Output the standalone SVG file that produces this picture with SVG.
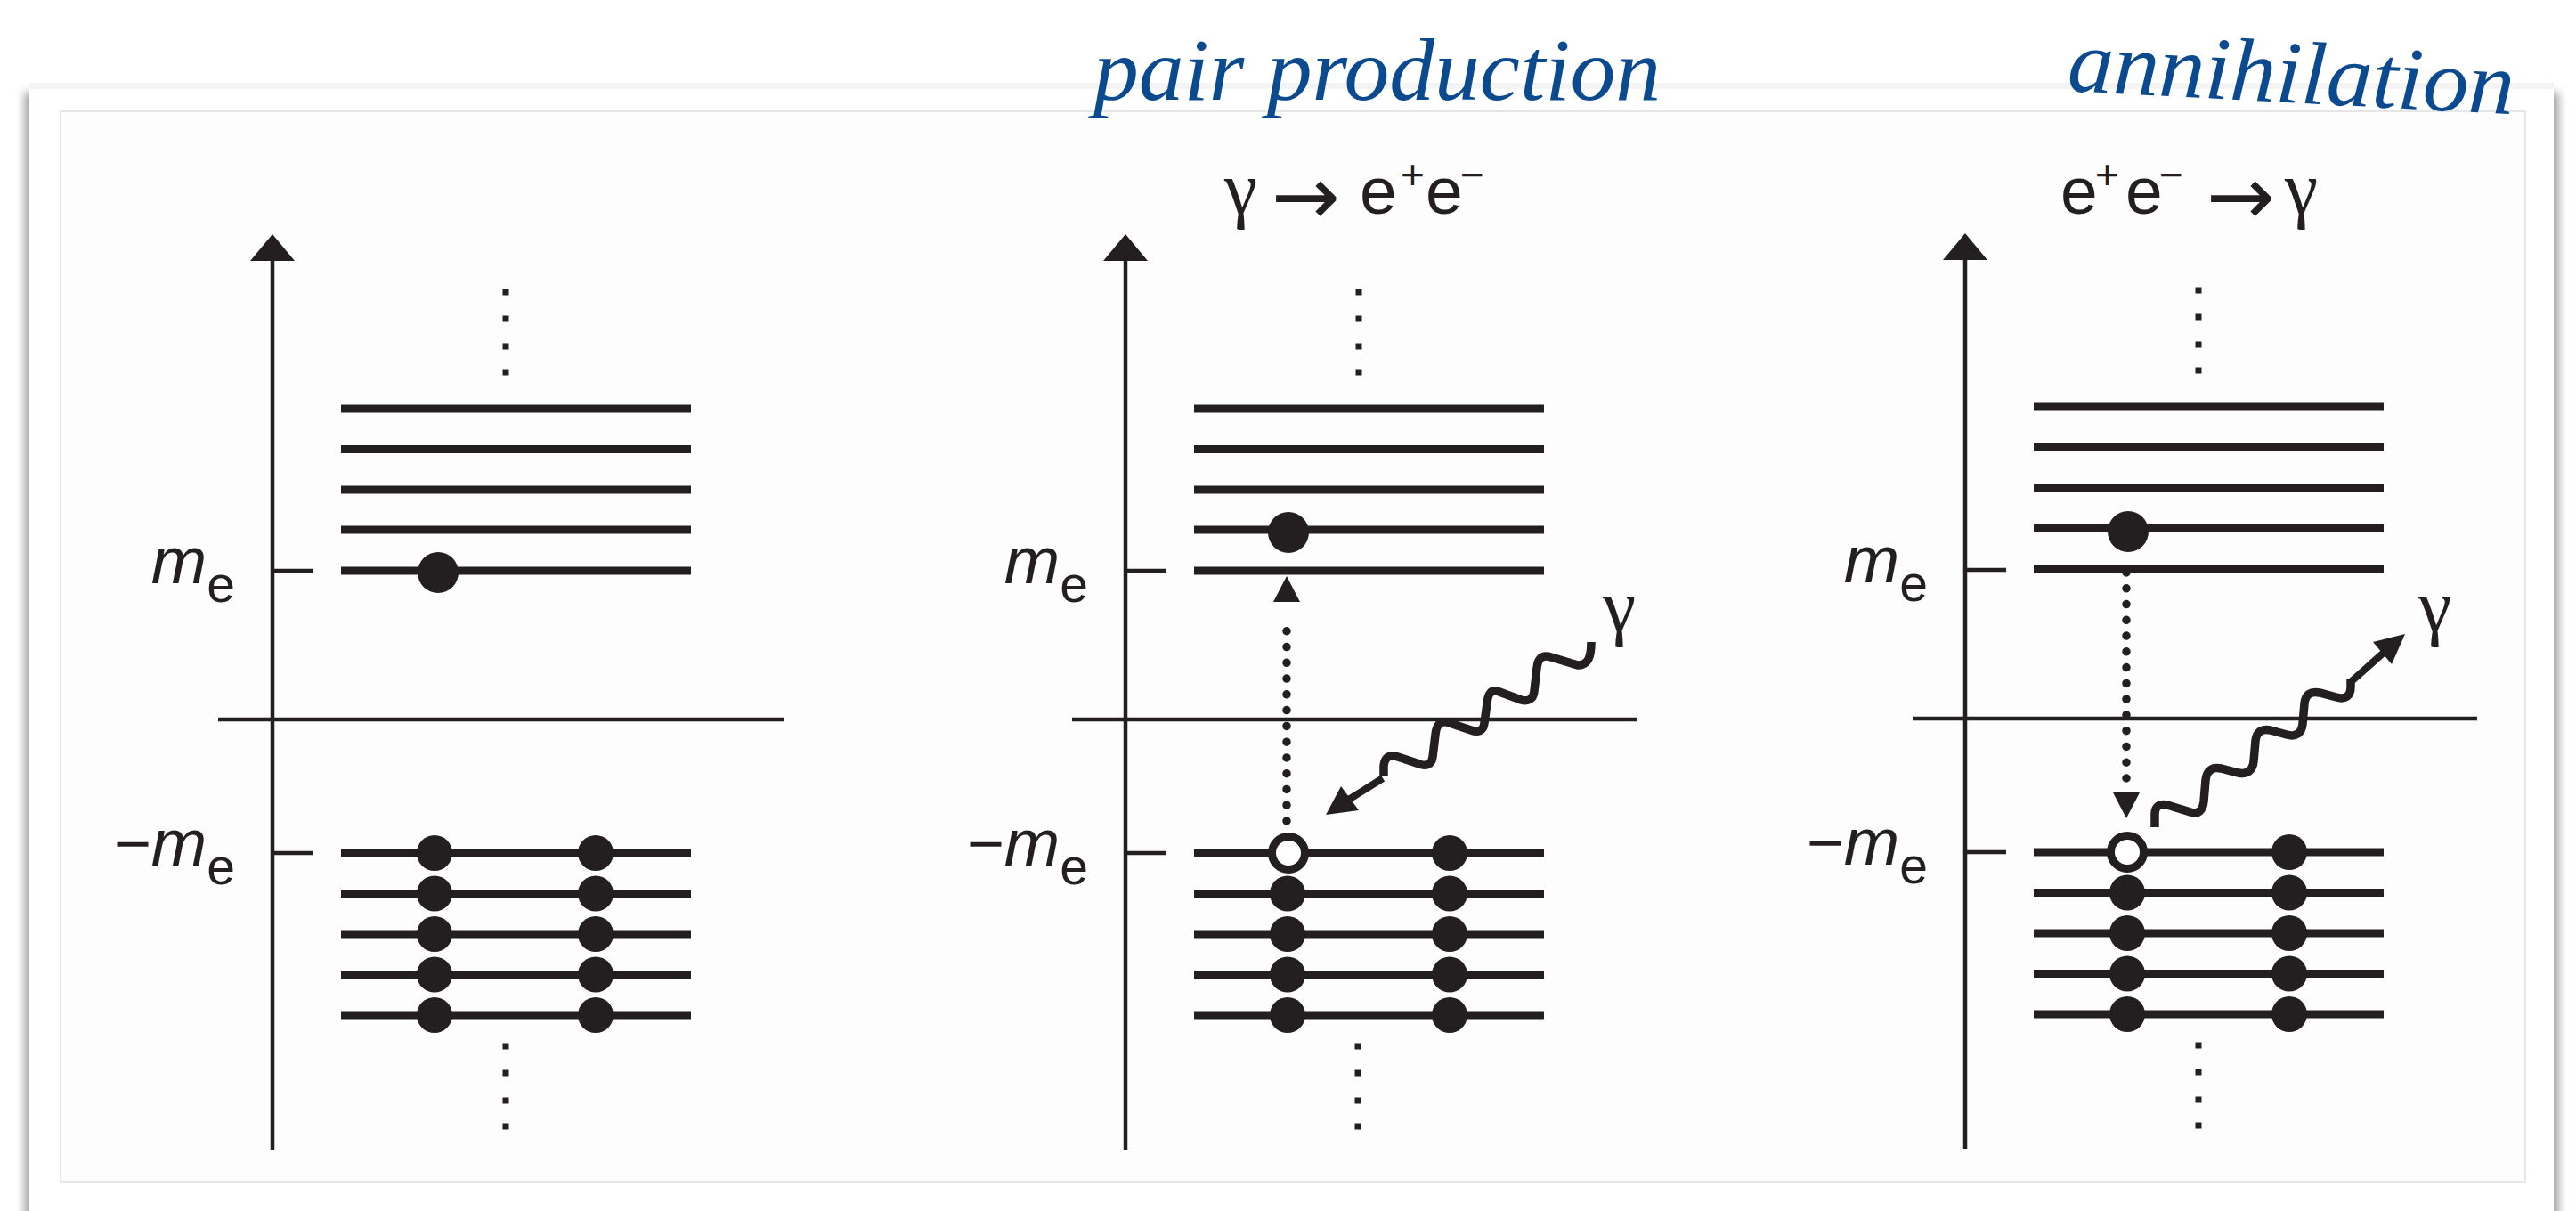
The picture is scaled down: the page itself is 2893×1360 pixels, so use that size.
<svg xmlns="http://www.w3.org/2000/svg" width="2893" height="1360" viewBox="0 0 2893 1360">
<style>
.lv{stroke:#231f20;stroke-width:9;fill:none}
.ax{stroke:#231f20;stroke-width:4.5;fill:none}
.k{fill:#231f20}
.hole{fill:#ffffff;stroke:#231f20;stroke-width:9}
.wave{fill:none;stroke:#231f20;stroke-width:9.5}
.shaft{fill:none;stroke:#231f20;stroke-width:8}
.dots{fill:none;stroke:#231f20;stroke-width:9.5;stroke-linecap:round;stroke-dasharray:0 17.77}
.lbl{font-family:"Liberation Sans",Arial,sans-serif;fill:#231f20}
.m{font-style:italic;font-size:75px}
.sub{font-size:57px}
.eq{font-family:"Liberation Sans",Arial,sans-serif;font-size:75px;fill:#231f20}
.sup{font-size:46px}
.gam{font-family:"Liberation Serif","Times New Roman",serif;font-size:84px;fill:#231f20}
.arr{font-family:"DejaVu Sans",sans-serif;font-size:92px}
.hand{font-family:"Liberation Serif","Times New Roman",serif;font-style:italic;font-size:100px;fill:#0b4a8f}
</style>
<defs>
<filter id="sh" x="-2%" y="-2%" width="104%" height="104%"><feGaussianBlur stdDeviation="5"/></filter>
<g id="sq"><rect x="-3.5" y="-3.5" width="7" height="7" class="k"/></g>
</defs>
<rect width="2893" height="1360" fill="#ffffff"/>
<g id="card">
<rect x="27" y="104" width="2847" height="1300" fill="#a8a8a8" filter="url(#sh)"/>
<rect x="33" y="93" width="2835" height="1300" fill="#ffffff"/>
<rect x="33" y="93" width="2835" height="7" fill="#f4f4f4"/>
<rect x="68" y="125" width="2768" height="1202" fill="#fdfdfd" stroke="#e6e6e6" stroke-width="2"/>
</g>

<g id="panel1" transform="translate(306,0)">
<g id="p1-axis"><line class="ax" x1="0" y1="290" x2="0" y2="1292"/><polygon class="k" points="0,263 -25,293 25,293"/><line class="ax" x1="-61" y1="808" x2="574" y2="808"/><line class="ax" x1="0" y1="641" x2="46" y2="641"/><line class="ax" x1="0" y1="958" x2="46" y2="958"/></g>
<g id="p1-labels"><text class="lbl" x="-42" y="655" text-anchor="end"><tspan class="m">m</tspan><tspan class="sub" dy="21">e</tspan></text><text class="lbl" x="-42" y="972" text-anchor="end"><tspan font-size="72">−</tspan><tspan class="m">m</tspan><tspan class="sub" dy="21">e</tspan></text></g>
<g id="p1-upper"><line class="lv" x1="77" y1="459" x2="470" y2="459"/><line class="lv" x1="77" y1="504.5" x2="470" y2="504.5"/><line class="lv" x1="77" y1="550" x2="470" y2="550"/><line class="lv" x1="77" y1="595" x2="470" y2="595"/><line class="lv" x1="77" y1="641" x2="470" y2="641"/><use href="#sq" x="262" y="328"/><use href="#sq" x="262" y="358"/><use href="#sq" x="262" y="389"/><use href="#sq" x="262" y="418"/><circle class="k" cx="186" cy="643" r="23"/></g>
<g id="p1-lower"><line class="lv" x1="77" y1="958" x2="470" y2="958"/><line class="lv" x1="77" y1="1003.5" x2="470" y2="1003.5"/><line class="lv" x1="77" y1="1049" x2="470" y2="1049"/><line class="lv" x1="77" y1="1094.5" x2="470" y2="1094.5"/><line class="lv" x1="77" y1="1140" x2="470" y2="1140"/>
<circle class="k" cx="182" cy="958" r="20"/><circle class="k" cx="182" cy="1003.5" r="20"/><circle class="k" cx="182" cy="1049" r="20"/><circle class="k" cx="182" cy="1094.5" r="20"/><circle class="k" cx="182" cy="1140" r="20"/>
<circle class="k" cx="363" cy="958" r="20"/><circle class="k" cx="363" cy="1003.5" r="20"/><circle class="k" cx="363" cy="1049" r="20"/><circle class="k" cx="363" cy="1094.5" r="20"/><circle class="k" cx="363" cy="1140" r="20"/>
<use href="#sq" x="262" y="1175"/><use href="#sq" x="262" y="1205"/><use href="#sq" x="262" y="1236"/><use href="#sq" x="262" y="1265"/></g>
</g>

<g id="panel2" transform="translate(1264,0)">
<g id="p2-axis"><line class="ax" x1="0" y1="290" x2="0" y2="1292"/><polygon class="k" points="0,263 -25,293 25,293"/><line class="ax" x1="-60" y1="808" x2="575" y2="808"/><line class="ax" x1="0" y1="641" x2="46" y2="641"/><line class="ax" x1="0" y1="958" x2="46" y2="958"/></g>
<g id="p2-labels"><text class="lbl" x="-42" y="655" text-anchor="end"><tspan class="m">m</tspan><tspan class="sub" dy="21">e</tspan></text><text class="lbl" x="-42" y="972" text-anchor="end"><tspan font-size="72">−</tspan><tspan class="m">m</tspan><tspan class="sub" dy="21">e</tspan></text></g>
<g id="p2-upper"><line class="lv" x1="77" y1="459" x2="470" y2="459"/><line class="lv" x1="77" y1="504.5" x2="470" y2="504.5"/><line class="lv" x1="77" y1="550" x2="470" y2="550"/><line class="lv" x1="77" y1="595" x2="470" y2="595"/><line class="lv" x1="77" y1="641" x2="470" y2="641"/><use href="#sq" x="262" y="328"/><use href="#sq" x="262" y="358"/><use href="#sq" x="262" y="389"/><use href="#sq" x="262" y="418"/><circle class="k" cx="183" cy="598" r="23"/></g>
<g id="p2-lower"><line class="lv" x1="77" y1="958" x2="470" y2="958"/><line class="lv" x1="77" y1="1003.5" x2="470" y2="1003.5"/><line class="lv" x1="77" y1="1049" x2="470" y2="1049"/><line class="lv" x1="77" y1="1094.5" x2="470" y2="1094.5"/><line class="lv" x1="77" y1="1140" x2="470" y2="1140"/>
<circle class="hole" cx="183" cy="958" r="18.5"/><circle class="k" cx="182" cy="1003.5" r="20"/><circle class="k" cx="182" cy="1049" r="20"/><circle class="k" cx="182" cy="1094.5" r="20"/><circle class="k" cx="182" cy="1140" r="20"/>
<circle class="k" cx="364" cy="958" r="20"/><circle class="k" cx="364" cy="1003.5" r="20"/><circle class="k" cx="364" cy="1049" r="20"/><circle class="k" cx="364" cy="1094.5" r="20"/><circle class="k" cx="364" cy="1140" r="20"/>
<use href="#sq" x="261" y="1175"/><use href="#sq" x="261" y="1205"/><use href="#sq" x="261" y="1236"/><use href="#sq" x="261" y="1265"/></g>
</g>

<g id="panel3" transform="translate(2207,0)">
<g id="p3-axis"><line class="ax" x1="0" y1="290" x2="0" y2="1290"/><polygon class="k" points="0,262 -25,292 25,292"/><line class="ax" x1="-59" y1="807" x2="575" y2="807"/><line class="ax" x1="0" y1="640" x2="46" y2="640"/><line class="ax" x1="0" y1="957" x2="46" y2="957"/></g>
<g id="p3-labels"><text class="lbl" x="-42" y="654" text-anchor="end"><tspan class="m">m</tspan><tspan class="sub" dy="21">e</tspan></text><text class="lbl" x="-42" y="971" text-anchor="end"><tspan font-size="72">−</tspan><tspan class="m">m</tspan><tspan class="sub" dy="21">e</tspan></text></g>
<g id="p3-upper"><line class="lv" x1="77" y1="457" x2="470" y2="457"/><line class="lv" x1="77" y1="502.5" x2="470" y2="502.5"/><line class="lv" x1="77" y1="548" x2="470" y2="548"/><line class="lv" x1="77" y1="593.5" x2="470" y2="593.5"/><line class="lv" x1="77" y1="639" x2="470" y2="639"/><use href="#sq" x="262" y="326"/><use href="#sq" x="262" y="356"/><use href="#sq" x="262" y="387"/><use href="#sq" x="262" y="416"/><circle class="k" cx="183" cy="597" r="23"/></g>
<g id="p3-lower"><line class="lv" x1="77" y1="957" x2="470" y2="957"/><line class="lv" x1="77" y1="1002.5" x2="470" y2="1002.5"/><line class="lv" x1="77" y1="1048" x2="470" y2="1048"/><line class="lv" x1="77" y1="1093.5" x2="470" y2="1093.5"/><line class="lv" x1="77" y1="1139" x2="470" y2="1139"/>
<circle class="hole" cx="182" cy="957" r="18.5"/><circle class="k" cx="182" cy="1002.5" r="20"/><circle class="k" cx="182" cy="1048" r="20"/><circle class="k" cx="182" cy="1093.5" r="20"/><circle class="k" cx="182" cy="1139" r="20"/>
<circle class="k" cx="364" cy="957" r="20"/><circle class="k" cx="364" cy="1002.5" r="20"/><circle class="k" cx="364" cy="1048" r="20"/><circle class="k" cx="364" cy="1093.5" r="20"/><circle class="k" cx="364" cy="1139" r="20"/>
<use href="#sq" x="262" y="1174"/><use href="#sq" x="262" y="1204"/><use href="#sq" x="262" y="1235"/><use href="#sq" x="262" y="1264"/></g>
</g>

<g id="titles">
<text class="eq" y="240"><tspan class="gam" x="1375">γ</tspan><tspan class="arr" x="1428" dy="12">→</tspan><tspan x="1527" dy="-12">e</tspan><tspan class="sup" x="1573" dy="-28">+</tspan><tspan x="1601" dy="28">e</tspan><tspan class="sup" x="1640" dy="-28">−</tspan></text>
<text class="eq" y="240"><tspan x="2314">e</tspan><tspan class="sup" x="2353" dy="-28">+</tspan><tspan x="2387" dy="28">e</tspan><tspan class="sup" x="2425" dy="-28">−</tspan><tspan class="arr" x="2478" dy="40">→</tspan><tspan class="gam" x="2566" dy="-12">γ</tspan></text>
</g>

<g id="handwritten">
<text class="hand" x="1228" y="112" textLength="637" lengthAdjust="spacingAndGlyphs">pair production</text>
<text class="hand" x="2321" y="102" textLength="502" lengthAdjust="spacingAndGlyphs" transform="rotate(3 2321 102)">annihilation</text>
</g>

<g id="photon-labels">
<text class="gam" x="1800" y="709">γ</text>
<text class="gam" x="2716" y="709">γ</text>
</g>

<g id="connectors">
<g id="c-excite"><line class="dots" x1="1445" y1="922" x2="1445" y2="691"/><polygon class="k" points="1445,647 1430,676 1460,676"/></g>
<g id="c-photon-in"><path class="wave" d="M1787,721 C1787,737 1784,747 1772,747 L1742,738 C1730,734 1727,742 1726,750 L1723,776 C1722,786 1716,788 1708,786 L1684,777 C1674,773 1671,780 1670,790 L1667,812 C1666,821 1660,823 1652,820 L1628,812 C1617,808 1613,815 1612,825 L1609,850 C1608,859 1601,861 1594,858 L1570,850 C1559,846 1555,852 1554,860 L1554,872"/><line class="shaft" x1="1553" y1="874" x2="1513" y2="899"/><polygon class="k" points="1489,915 1506,883 1526,910"/></g>
<g id="c-decay"><line class="dots" x1="2388" y1="643" x2="2388" y2="875"/><polygon class="k" points="2388,919 2373,890 2403,890"/></g>
<g id="c-photon-out"><path class="wave" d="M2420,929 L2420,914 C2420,905 2426,902 2434,904 L2460,912 C2470,915 2474,909 2475,900 L2477,876 C2478,866 2484,861 2494,863 L2514,868 C2524,870 2530,865 2531,855 L2533,832 C2534,822 2540,818 2550,820 L2568,825 C2579,828 2585,823 2586,813 L2588,790 C2589,780 2595,776 2605,778 L2624,783 C2635,786 2640,781 2640,771 L2640,762"/><line class="shaft" x1="2641" y1="765" x2="2678" y2="732"/><polygon class="k" points="2701,712 2665,721 2686,746"/></g>
</g>
</svg>
